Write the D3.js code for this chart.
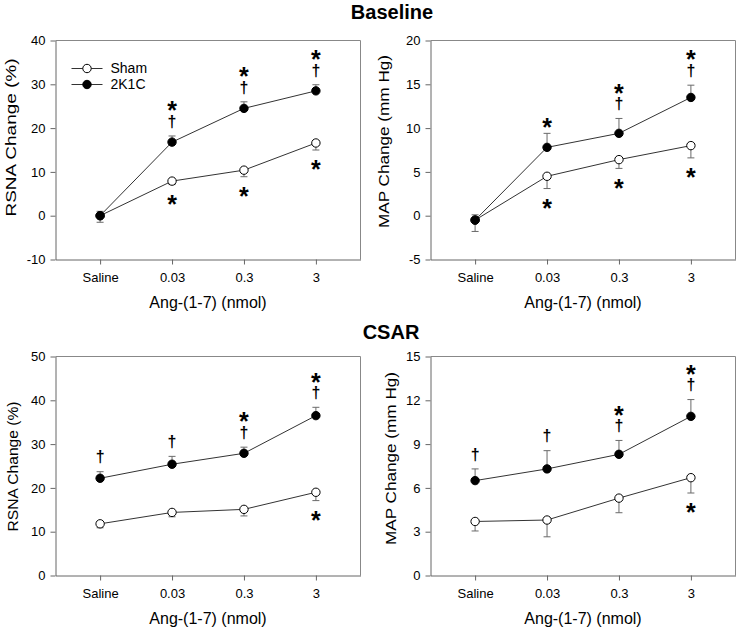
<!DOCTYPE html>
<html lang="en">
<head>
<meta charset="UTF-8">
<title>Ang-(1-7) responses</title>
<script src="https://d3js.org/d3.v7.min.js"></script>
<style>
    body {
        margin: 0;
        padding: 0;
        background: #fff;
        font-family: "Liberation Sans", Arial, sans-serif;
    }
    svg text { fill: #000; }
</style>
</head>
<body>
<div id="chart"></div>
<script>
// categories
const doses = ["Saline", "0.03", "0.3", "3"];

// Baseline RSNA (%)
const baseRsnaSham = [0, 7.9, 10.4, 16.6];
const baseRsnaShamErr = [1.5, 0.8, 1.5, 1.6];
const baseRsna2k1c = [0, 16.8, 24.5, 28.5];
const baseRsna2k1cErr = [1.0, 1.4, 1.5, 1.4];
const baseRsnaShamMarks = ["", "*", "*", "*"];
const baseRsna2k1cMarks = ["", "*†", "*†", "*†"];

// Baseline MAP (mm Hg)
const baseMapSham = [-0.5, 4.5, 6.4, 8.0];
const baseMapShamErr = [1.3, 1.4, 1.0, 1.4];
const baseMap2k1c = [-0.5, 7.8, 9.4, 13.5];
const baseMap2k1cErr = [0.6, 1.6, 1.7, 1.4];
const baseMapShamMarks = ["", "*", "*", "*"];
const baseMap2k1cMarks = ["", "*", "*†", "*†"];

// CSAR RSNA (%)
const csarRsnaSham = [11.8, 14.4, 15.1, 19.0];
const csarRsnaShamErr = [0.9, 1.0, 1.5, 1.9];
const csarRsna2k1c = [22.2, 25.4, 27.9, 36.5];
const csarRsna2k1cErr = [1.5, 1.8, 1.4, 1.9];
const csarRsnaShamMarks = ["", "", "", "*"];
const csarRsna2k1cMarks = ["†", "†", "*†", "*†"];

// CSAR MAP (mm Hg)
const csarMapSham = [3.7, 3.8, 5.3, 6.7];
const csarMapShamErr = [0.65, 1.15, 1.0, 1.05];
const csarMap2k1c = [6.5, 7.3, 8.3, 10.9];
const csarMap2k1cErr = [0.8, 1.25, 0.95, 1.15];
const csarMapShamMarks = ["", "", "", "*"];
const csarMap2k1cMarks = ["†", "†", "*†", "*†"];

// tick values
const rsnaBaseTicks = [-10, 0, 10, 20, 30, 40];
const mapBaseTicks = [-5, 0, 5, 10, 15, 20];
const rsnaCsarTicks = [0, 10, 20, 30, 40, 50];
const mapCsarTicks = [0, 3, 6, 9, 12, 15];

const seriesNames = ["Sham", "2K1C"];
const sectionTitles = ["Baseline", "CSAR"];
const xLabel = "Ang-(1-7) (nmol)";

const width = 742, height = 632;

const svg = d3.select("#chart").append("svg")
    .attr("width", width)
    .attr("height", height);

svg.append("text")
    .attr("x", 392).attr("y", 19)
    .attr("text-anchor", "middle")
    .attr("font-size", "20px").attr("font-weight", "bold")
    .text(sectionTitles[0]);

svg.append("text")
    .attr("x", 391).attr("y", 338.5)
    .attr("text-anchor", "middle")
    .attr("font-size", "20px").attr("font-weight", "bold")
    .text(sectionTitles[1]);

// layout per panel; the y titles are stretched differently in the source figure
const panels = [
    { left: 55.5, top: 40.5, ylab: "RSNA Change (%)", ylabX: -40, ylabY: 97, ylabLen: 158, ticks: rsnaBaseTicks,
      sham: baseRsnaSham, shamErr: baseRsnaShamErr, k: baseRsna2k1c, kErr: baseRsna2k1cErr,
      shamMarks: baseRsnaShamMarks, kMarks: baseRsna2k1cMarks, legend: true },
    { left: 430.5, top: 40.5, ylab: "MAP Change (mm Hg)", ylabX: -41.5, ylabY: 101, ylabLen: 173, ticks: mapBaseTicks,
      sham: baseMapSham, shamErr: baseMapShamErr, k: baseMap2k1c, kErr: baseMap2k1cErr,
      shamMarks: baseMapShamMarks, kMarks: baseMap2k1cMarks },
    { left: 55.5, top: 356.5, ylab: "RSNA Change (%)", ylabX: -38, ylabY: 110, ylabLen: 130, ticks: rsnaCsarTicks,
      sham: csarRsnaSham, shamErr: csarRsnaShamErr, k: csarRsna2k1c, kErr: csarRsna2k1cErr,
      shamMarks: csarRsnaShamMarks, kMarks: csarRsna2k1cMarks },
    { left: 430.5, top: 356.5, ylab: "MAP Change (mm Hg)", ylabX: -35, ylabY: 102, ylabLen: 173, ticks: mapCsarTicks,
      sham: csarMapSham, shamErr: csarMapShamErr, k: csarMap2k1c, kErr: csarMap2k1cErr,
      shamMarks: csarMapShamMarks, kMarks: csarMap2k1cMarks }
];

const pw = 305, ph = 219;
const axisColor = "#666", barColor = "#6a6a6a", lineColor = "#333";

panels.forEach(p => {
    const g = svg.append("g").attr("transform", `translate(${p.left},${p.top})`);

    const x = d3.scalePoint().domain(doses).range([0, pw]).padding(0.62);
    const y = d3.scaleLinear().domain(d3.extent(p.ticks)).range([ph, 0]);

    // frame (top and right)
    g.append("path")
        .attr("d", `M0,0H${pw}V${ph}`)
        .attr("fill", "none").attr("stroke", "#888");

    const yAxis = g.append("g")
        .call(d3.axisLeft(y).tickValues(p.ticks).tickSize(5).tickSizeOuter(0).tickFormat(d => String(d)));
    const xAxis = g.append("g")
        .attr("transform", `translate(0,${ph})`)
        .call(d3.axisBottom(x).tickSize(5).tickSizeOuter(0));

    [yAxis, xAxis].forEach(a => {
        a.attr("font-size", 13).attr("font-family", "Liberation Sans, Arial, sans-serif");
        a.select(".domain").attr("stroke", axisColor);
        a.selectAll(".tick line").attr("stroke", axisColor);
        a.selectAll(".tick text").attr("fill", "#000");
    });
    yAxis.selectAll(".tick text").attr("x", -10);
    xAxis.selectAll(".tick text").attr("y", 13);

    g.append("text")
        .attr("x", pw / 2).attr("y", ph + 48)
        .attr("text-anchor", "middle").attr("font-size", "16px")
        .text(xLabel);

    g.append("text")
        .attr("transform", `translate(${p.ylabX},${p.ylabY}) rotate(-90)`)
        .attr("text-anchor", "middle").attr("font-size", "15px")
        .attr("textLength", p.ylabLen).attr("lengthAdjust", "spacingAndGlyphs")
        .text(p.ylab);

    const line = d3.line().x((d, i) => x(doses[i])).y(d => y(d));

    [p.sham, p.k].forEach(vals => {
        g.append("path").datum(vals)
            .attr("d", line)
            .attr("fill", "none").attr("stroke", lineColor).attr("stroke-width", 1);
    });

    // error bars: sham downward, 2K1C upward
    const bars = [];
    p.sham.forEach((v, i) => bars.push({ i, v, end: v - p.shamErr[i] }));
    p.k.forEach((v, i) => bars.push({ i, v, end: v + p.kErr[i] }));
    const eb = g.append("g").attr("stroke", barColor).attr("stroke-width", 1);
    bars.forEach(b => {
        const cx = x(doses[b.i]);
        eb.append("line").attr("x1", cx).attr("x2", cx).attr("y1", y(b.v)).attr("y2", y(b.end));
        eb.append("line").attr("x1", cx - 3.5).attr("x2", cx + 3.5).attr("y1", y(b.end)).attr("y2", y(b.end));
    });

    // markers
    g.selectAll(".sham").data(p.sham).enter().append("circle")
        .attr("cx", (d, i) => x(doses[i])).attr("cy", d => y(d)).attr("r", 4.2)
        .attr("fill", "#fff").attr("stroke", "#000");
    g.selectAll(".k").data(p.k).enter().append("circle")
        .attr("cx", (d, i) => x(doses[i])).attr("cy", d => y(d)).attr("r", 4.2)
        .attr("fill", "#000").attr("stroke", "#000");

    // significance marks: one text per point, star and dagger stacked as tspans
    function marks(cx, starY, daggerY) {
        const t = g.append("text").attr("text-anchor", "middle").attr("font-weight", "bold");
        if (starY != null) {
            t.append("tspan").attr("x", cx).attr("y", starY + 0.57 * 25)
                .attr("font-size", "25px").text("*");
        }
        if (daggerY != null) {
            t.append("tspan").attr("x", cx).attr("y", daggerY + 0.3 * 16)
                .attr("font-size", "16px").text("†");
        }
    }
    p.kMarks.forEach((m, i) => {
        if (!m) return;
        const cx = x(doses[i]);
        const cap = y(p.k[i] + p.kErr[i]);
        if (m.includes("†")) {
            const dy = cap - 14;
            marks(cx, m.includes("*") ? dy - 17 : null, dy);
        } else {
            marks(cx, cap - 12, null);
        }
    });
    p.shamMarks.forEach((m, i) => {
        if (!m) return;
        marks(x(doses[i]), y(p.sham[i] - p.shamErr[i]) + 14, null);
    });

    if (p.legend) {
        const lg = g.append("g").attr("transform", "translate(16,28)");
        seriesNames.forEach((name, j) => {
            const row = lg.append("g").attr("transform", `translate(0,${j * 16})`);
            row.append("line").attr("x1", 0).attr("x2", 31).attr("stroke", lineColor);
            row.append("circle").attr("cx", 15.5).attr("r", 4.2)
                .attr("fill", j === 0 ? "#fff" : "#000").attr("stroke", "#000");
            row.append("text").attr("x", 39).attr("dy", "0.35em").attr("font-size", "14px").text(name);
        });
    }
});
</script>
</body>
</html>
